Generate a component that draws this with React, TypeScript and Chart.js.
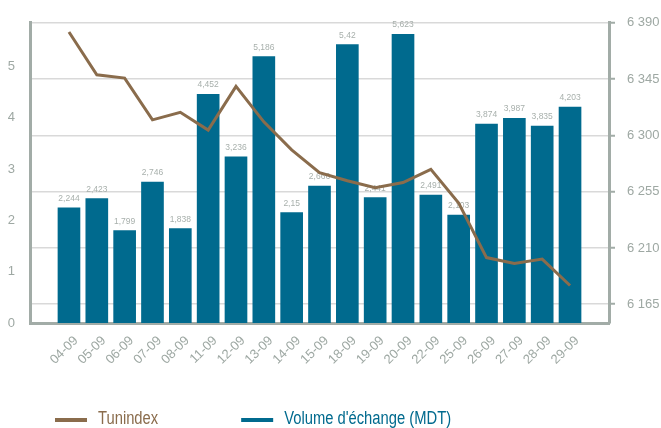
import React, { useEffect, useRef } from 'react';
import { Chart, registerables } from 'chart.js';

Chart.register(...registerables);

const dates = ['04-09', '05-09', '06-09', '07-09', '08-09', '11-09', '12-09', '13-09', '14-09', '15-09', '18-09', '19-09', '20-09', '22-09', '25-09', '26-09', '27-09', '28-09', '29-09'];
const volume = [2.244, 2.423, 1.799, 2.746, 1.838, 4.452, 3.236, 5.186, 2.15, 2.666, 5.42, 2.441, 5.623, 2.491, 2.103, 3.874, 3.987, 3.835, 4.203];
const tunindex = [6382.6, 6348.4, 6345.8, 6312.4, 6318.4, 6304.2, 6339.2, 6310.8, 6288.4, 6270.2, 6263.7, 6258.2, 6262.3, 6272.9, 6245.8, 6202.3, 6197.6, 6201.1, 6180];
const leftTicks = [0, 1, 2, 3, 4, 5];
const rightTicks = [6165, 6210, 6255, 6300, 6345, 6390];

const BLUE = '#006a8e';
const BROWN = '#8a6c4c';
const AXIS = '#a2aca7';
const TICK_TEXT = '#9ea8a3';
const GRID = '#d9d9d9';
const LABEL_TEXT = '#a8b0ac';

const fmtThousands = (v: number) => String(v).replace(/\B(?=(\d{3})+(?!\d))/g, ' ');

const barLabelPlugin = {
  id: 'barLabels',
  afterDatasetDraw(chart: any, args: any) {
    if (args.index !== 1) return;
    const meta = chart.getDatasetMeta(1);
    const ctx = chart.ctx;
    ctx.save();
    ctx.font = '8.5px "Liberation Sans", Arial, sans-serif';
    ctx.fillStyle = LABEL_TEXT;
    ctx.textAlign = 'center';
    ctx.textBaseline = 'bottom';
    meta.data.forEach((el: any, i: number) => {
      ctx.fillText(String(volume[i]).replace('.', ','), el.x, el.y - 5);
    });
    ctx.restore();
  },
};

const legendPlugin = {
  id: 'customLegend',
  afterDraw(chart: any) {
    const ctx = chart.ctx;
    const order = [chart.data.datasets[0], chart.data.datasets[1]];
    const squeeze = 0.82;
    ctx.save();
    ctx.font = '18px "Liberation Sans", Arial, sans-serif';
    ctx.textBaseline = 'alphabetic';
    ctx.textAlign = 'left';
    let x = chart.chartArea.left + 25;
    const yText = chart.height - 4;
    const yMarker = yText - 4;
    order.forEach((ds: any) => {
      ctx.fillStyle = ds.legendColor;
      ctx.fillRect(x, yMarker - 2, 32, 4);
      x += 43;
      ctx.save();
      ctx.translate(x, yText);
      ctx.scale(squeeze, 1);
      ctx.fillText(ds.label, 0, 0);
      ctx.restore();
      x += ctx.measureText(ds.label).width * squeeze + 83;
    });
    ctx.restore();
  },
};

export default function App() {
  const ref = useRef<HTMLCanvasElement | null>(null);

  useEffect(() => {
    if (!ref.current) return;
    const chart = new Chart(ref.current, {
      type: 'bar',
      data: {
        datasets: [
          {
            type: 'line',
            label: 'Tunindex',
            data: tunindex.map((v, i) => ({ x: i, y: v })),
            borderColor: BROWN,
            backgroundColor: BROWN,
            borderWidth: 3,
            pointRadius: 0,
            tension: 0,
            yAxisID: 'y1',
            order: 0,
            legendColor: BROWN,
          } as any,
          {
            type: 'bar',
            label: "Volume d'échange (MDT)",
            data: volume.map((v, i) => ({ x: i, y: v })),
            backgroundColor: BLUE,
            barThickness: 22,
            yAxisID: 'y',
            order: 1,
            legendColor: BLUE,
          } as any,
        ],
      },
      options: {
        animation: false,
        responsive: false,
        layout: { padding: { top: 19, bottom: 55, left: 0, right: 0 } },
        plugins: {
          legend: { display: false },
          tooltip: { enabled: false },
        },
        scales: {
          x: {
            type: 'linear',
            offset: false,
            min: -1.4,
            max: 19.4,
            afterBuildTicks: (scale: any) => {
              scale.ticks = dates.map((_, i) => ({ value: i }));
            },
            afterFit: (scale: any) => {
              scale.height = 50;
              scale.paddingLeft = 0;
              scale.paddingRight = 0;
            },
            grid: { display: false, drawTicks: false, offset: false },
            border: { display: true, color: AXIS, width: 3 },
            ticks: {
              autoSkip: false,
              maxRotation: 45,
              minRotation: 45,
              padding: 10,
              labelOffset: 7,
              color: TICK_TEXT,
              font: { family: '"Liberation Sans", Arial, sans-serif', size: 13 },
              callback: (v: any) => dates[v] ?? '',
            },
          },
          y: {
            type: 'linear',
            position: 'left',
            min: 0,
            max: 5.846,
            afterBuildTicks: (scale: any) => {
              scale.ticks = leftTicks.map((v) => ({ value: v }));
            },
            afterFit: (scale: any) => {
              scale.width = 30;
            },
            grid: { display: false, drawTicks: false },
            border: { display: true, color: AXIS, width: 3 },
            ticks: {
              padding: 15,
              color: TICK_TEXT,
              font: { family: '"Liberation Sans", Arial, sans-serif', size: 13 },
              callback: (v: any) => String(v),
            },
          },
          y1: {
            type: 'linear',
            position: 'right',
            min: 6150,
            max: 6390,
            afterBuildTicks: (scale: any) => {
              scale.ticks = rightTicks.map((v) => ({ value: v }));
            },
            afterFit: (scale: any) => {
              scale.width = 52;
            },
            grid: {
              display: true,
              drawOnChartArea: true,
              color: GRID,
              lineWidth: 1.5,
              drawTicks: true,
              tickLength: 6,
              tickColor: AXIS,
              tickWidth: 2,
            },
            border: { display: true, color: AXIS, width: 3 },
            ticks: {
              padding: 12,
              color: TICK_TEXT,
              font: { family: '"Liberation Sans", Arial, sans-serif', size: 13 },
              callback: (v: any) => fmtThousands(v),
            },
          },
        },
      },
      plugins: [barLabelPlugin, legendPlugin],
    } as any);
    return () => chart.destroy();
  }, []);

  return (
    <div style={{ position: 'fixed', left: 0, top: 0, width: 661, height: 428, background: '#fff' }}>
      <canvas ref={ref} width={661} height={428} style={{ display: 'block' }} />
    </div>
  );
}
